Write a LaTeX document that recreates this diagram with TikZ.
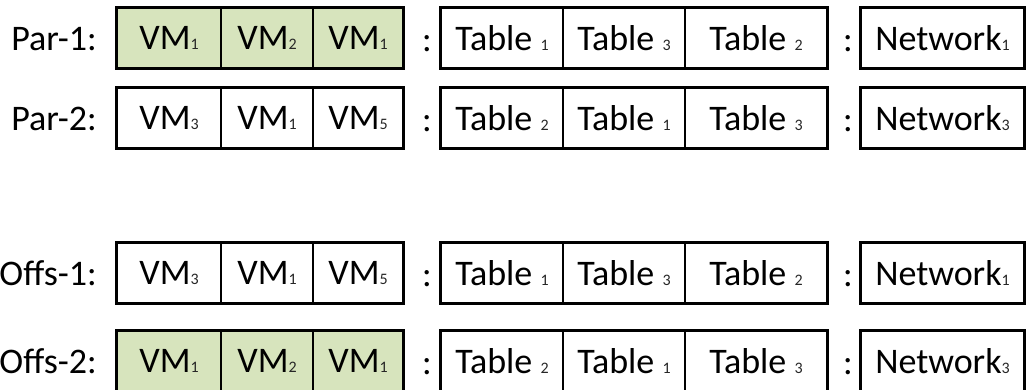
\documentclass[tikz,border=0pt]{standalone}
\usepackage{fontspec}
\setmainfont{Carlito}
\definecolor{cellgreen}{HTML}{D7E4BD}
\definecolor{subtext}{HTML}{262626}
\newcommand{\sbs}[1]{{\fontsize{16}{16}\selectfont\color{subtext}#1}}
\tikzset{
  cell/.style={draw, line width=1.5pt, minimum height=60pt, inner sep=0pt, font=\fontsize{36}{40}\selectfont},
  lbl/.style={anchor=base east, inner sep=0pt, font=\fontsize{36}{40}\selectfont},
  sep/.style={anchor=base, inner sep=0pt, font=\fontsize{36}{40}\selectfont},
  outer/.style={draw, line width=3pt}
}
\newcommand{\drawrow}[7]{%
  \node[lbl] (#1-lbl) at (97,#2+12) {#3};
  \node[cell, fill=#4, minimum width=104pt] (#1-v1) at (169,#2) {#5};
  \node[cell, fill=#4, minimum width=92pt]  (#1-v2) at (267,#2) {#6};
  \node[cell, fill=#4, minimum width=90pt]  (#1-v3) at (358,#2) {#7};
  \draw[outer] (#1-v1.north west) rectangle (#1-v3.south east);
  \node[sep] (#1-c1) at (427,#2+13) {:};
}
\newcommand{\drawrest}[5]{%
  \node[cell, minimum width=122pt] (#1-t1) at (502,#2) {#3};
  \node[cell, minimum width=122pt] (#1-t2) at (624,#2) {#4};
  \node[cell, minimum width=142pt] (#1-t3) at (756,#2) {#5};
  \draw[outer] (#1-t1.north west) rectangle (#1-t3.south east);
  \node[sep] (#1-c2) at (848,#2+13) {:};
}
\newcommand{\drawnet}[3]{%
  \node[cell, minimum width=163pt] (#1-n) at (942.5,#2) {#3};
  \draw[outer] (#1-n.north west) rectangle (#1-n.south east);
}
\begin{document}
\begin{tikzpicture}[x=1pt, y=-1pt]
  \useasboundingbox (0,0) rectangle (1028,389);
  \drawrow{r1}{38}{Par-1:}{cellgreen}{VM\sbs{1}}{VM\sbs{2}}{VM\sbs{1}}
  \drawrest{r1}{38}{Table \sbs{1}}{Table \sbs{3}}{Table \sbs{2}}
  \drawnet{r1}{38}{Network\sbs{1}}
  \drawrow{r2}{118}{Par-2:}{white}{VM\sbs{3}}{VM\sbs{1}}{VM\sbs{5}}
  \drawrest{r2}{118}{Table \sbs{2}}{Table \sbs{1}}{Table \sbs{3}}
  \drawnet{r2}{118}{Network\sbs{3}}
  \drawrow{r3}{273}{Offs-1:}{white}{VM\sbs{3}}{VM\sbs{1}}{VM\sbs{5}}
  \drawrest{r3}{273}{Table \sbs{1}}{Table \sbs{3}}{Table \sbs{2}}
  \drawnet{r3}{273}{Network\sbs{1}}
  \drawrow{r4}{361}{Offs-2:}{cellgreen}{VM\sbs{1}}{VM\sbs{2}}{VM\sbs{1}}
  \drawrest{r4}{361}{Table \sbs{2}}{Table \sbs{1}}{Table \sbs{3}}
  \drawnet{r4}{361}{Network\sbs{3}}
\end{tikzpicture}
\end{document}
